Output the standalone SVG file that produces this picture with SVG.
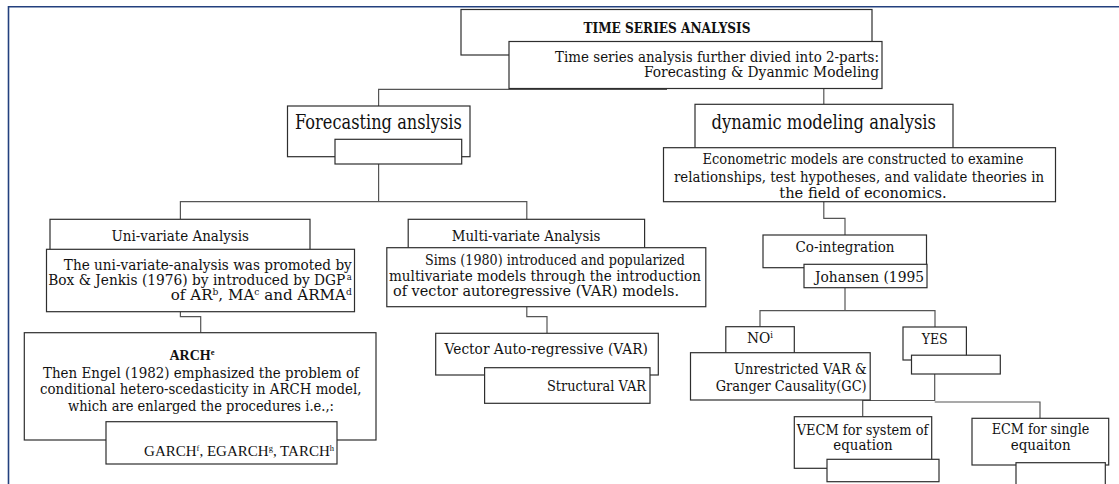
<svg xmlns="http://www.w3.org/2000/svg" width="1119" height="484" viewBox="0 0 1119 484">
<style>
.box{fill:#fff;stroke:#2e2e2e;stroke-width:1.2}
.conn{fill:none;stroke:#555;stroke-width:1.2}
.frame{fill:none;stroke:#23407e;stroke-width:1.6}
text{font-family:"DejaVu Serif","Liberation Serif",serif;font-size:14px;fill:#111}
.b{font-weight:bold}
.title{font-size:15px}
.arch{font-family:"Liberation Serif","DejaVu Serif",serif;font-size:14px}
.lib{font-family:"Liberation Serif","DejaVu Serif",serif;font-size:15px}
.big{font-size:20px}
.sup{font-size:8.5px;baseline-shift:super}
</style>
<rect width="1119" height="484" fill="#fff"/>
<path class="frame" d="M8.5,484 V6.8 H1119"/>

<g id="connectors">
<path class="conn" d="M378.6,106 V89.3 H667"/>
<path class="conn" d="M823.8,88.5 V104.3"/>
<path class="conn" d="M378.6,164 V201.7"/>
<path class="conn" d="M180.4,219.3 V201.7 H526.8 V219.3"/>
<path class="conn" d="M180.4,311.7 V316.7 H200.7 V332.7"/>
<path class="conn" d="M526.8,306.7 V316.7 H547 V333.3"/>
<path class="conn" d="M823.8,201.7 V218.3 H845 V235"/>
<path class="conn" d="M845,287.7 V310.7"/>
<path class="conn" d="M760,326.7 V310.7 H935 V327"/>
<path class="conn" d="M934.7,374 V400.5 H862.7 V416.7"/>
<path class="conn" d="M934.7,402 H1040 V418.3"/>
</g>

<g id="n-tsa">
<rect class="box" x="461" y="9.5" width="411" height="45.5"/>
<text class="b title" x="667" y="32.5" text-anchor="middle" textLength="167" lengthAdjust="spacingAndGlyphs">TIME SERIES ANALYSIS</text>
</g>
<g id="n-tsa-desc">
<rect class="box" x="509" y="41.5" width="373" height="47"/>
<text x="879" y="61.5" text-anchor="end" textLength="324" lengthAdjust="spacingAndGlyphs">Time series analysis further divied into 2-parts:</text>
<text x="879" y="76.5" text-anchor="end" textLength="235" lengthAdjust="spacingAndGlyphs">Forecasting &amp; Dyanmic Modeling</text>
</g>

<g id="n-forecast">
<rect class="box" x="287.5" y="106" width="182.5" height="50.7"/>
<text class="big" x="295" y="129" textLength="166.7" lengthAdjust="spacingAndGlyphs">Forecasting anslysis</text>
</g>
<g id="n-forecast-sub">
<rect class="box" x="335" y="139.3" width="126.7" height="24.7"/>
</g>

<g id="n-dynamic">
<rect class="box" x="695" y="104.3" width="258" height="50"/>
<text class="big" x="711.5" y="128.5" textLength="224.5" lengthAdjust="spacingAndGlyphs">dynamic modeling analysis</text>
</g>
<g id="n-econ">
<rect class="box" x="663.5" y="147.7" width="392" height="54"/>
<text x="863" y="164.3" text-anchor="middle" textLength="321" lengthAdjust="spacingAndGlyphs">Econometric models are constructed to examine</text>
<text x="859" y="181.5" text-anchor="middle" textLength="370" lengthAdjust="spacingAndGlyphs">relationships, test hypotheses, and validate theories in</text>
<text x="863" y="197.7" text-anchor="middle" textLength="167.5" lengthAdjust="spacingAndGlyphs">the field of economics.</text>
</g>

<g id="n-uni">
<rect class="box" x="50" y="219.3" width="260" height="35"/>
<text x="111.4" y="241" textLength="137.6" lengthAdjust="spacingAndGlyphs">Uni-variate Analysis</text>
</g>
<g id="n-uni-desc">
<rect class="box" x="46.5" y="249.3" width="308" height="62.4"/>
<text x="351.8" y="270" text-anchor="end" textLength="288" lengthAdjust="spacingAndGlyphs">The uni-variate-analysis was promoted by</text>
<text x="351.8" y="285" text-anchor="end" textLength="303.6" lengthAdjust="spacingAndGlyphs">Box &amp; Jenkis (1976) by introduced by DGP<tspan class="sup" dx="1.5">a</tspan></text>
<text x="351.8" y="299.5" text-anchor="end" textLength="181" lengthAdjust="spacingAndGlyphs">of AR<tspan class="sup">b</tspan>, MA<tspan class="sup">c</tspan> and ARMA<tspan class="sup">d</tspan></text>
</g>

<g id="n-multi">
<rect class="box" x="408.2" y="219.3" width="236.4" height="33"/>
<text x="451.8" y="241" textLength="148.6" lengthAdjust="spacingAndGlyphs">Multi-variate Analysis</text>
</g>
<g id="n-multi-desc">
<rect class="box" x="386.8" y="247.7" width="319" height="59"/>
<text x="425" y="265" textLength="260" lengthAdjust="spacingAndGlyphs">Sims (1980) introduced and popularized</text>
<text x="389" y="280.5" textLength="312" lengthAdjust="spacingAndGlyphs">multivariate models through the introduction</text>
<text x="393" y="296" textLength="286" lengthAdjust="spacingAndGlyphs">of vector autoregressive (VAR) models.</text>
</g>

<g id="n-arch">
<rect class="box" x="24.3" y="332.7" width="351.7" height="107.3"/>
<text class="b arch" x="192" y="359.5" text-anchor="middle">ARCH<tspan class="sup">e</tspan></text>
<text x="201" y="378.3" text-anchor="middle" textLength="316" lengthAdjust="spacingAndGlyphs">Then Engel (1982) emphasized the problem of</text>
<text x="200.7" y="394.3" text-anchor="middle" textLength="321.4" lengthAdjust="spacingAndGlyphs">conditional hetero-scedasticity in ARCH model,</text>
<text x="201" y="411" text-anchor="middle" textLength="266" lengthAdjust="spacingAndGlyphs">which are enlarged the procedures i.e.,:</text>
</g>
<g id="n-garch">
<rect class="box" x="106" y="421.7" width="231" height="42.3"/>
<text class="lib" x="334" y="456" text-anchor="end">GARCH<tspan class="sup">f</tspan>, EGARCH<tspan class="sup">g</tspan>, TARCH<tspan class="sup">h</tspan></text>
</g>

<g id="n-var">
<rect class="box" x="435.7" y="333.3" width="222.6" height="41.7"/>
<text x="444.6" y="353.7" textLength="203.4" lengthAdjust="spacingAndGlyphs">Vector Auto-regressive (VAR)</text>
</g>
<g id="n-svar">
<rect class="box" x="484.6" y="367.7" width="165.4" height="35.6"/>
<text x="646" y="391" text-anchor="end" textLength="99" lengthAdjust="spacingAndGlyphs">Structural VAR</text>
</g>

<g id="n-coint">
<rect class="box" x="763" y="235" width="163.5" height="32.7"/>
<text x="845" y="251.7" text-anchor="middle" textLength="99" lengthAdjust="spacingAndGlyphs">Co-integration</text>
</g>
<g id="n-johansen">
<rect class="box" x="804" y="264.3" width="123" height="23.4"/>
<text x="924" y="281.5" text-anchor="end" textLength="109" lengthAdjust="spacingAndGlyphs">Johansen (1995</text>
</g>

<g id="n-no">
<rect class="box" x="725.8" y="326.7" width="68.5" height="30"/>
<text x="760" y="343" text-anchor="middle" textLength="26" lengthAdjust="spacingAndGlyphs">NO<tspan class="sup">i</tspan></text>
</g>
<g id="n-unrestricted">
<rect class="box" x="690.5" y="352.7" width="179.7" height="47.3"/>
<text x="866.7" y="374" text-anchor="end" textLength="132.7" lengthAdjust="spacingAndGlyphs">Unrestricted VAR &amp;</text>
<text x="866.7" y="391" text-anchor="end" textLength="151" lengthAdjust="spacingAndGlyphs">Granger Causality(GC)</text>
</g>

<g id="n-yes">
<rect class="box" x="903" y="327" width="63.4" height="33"/>
<text x="934.7" y="344" text-anchor="middle" textLength="26" lengthAdjust="spacingAndGlyphs">YES</text>
</g>
<g id="n-yes-sub">
<rect class="box" x="911.5" y="355.2" width="88.8" height="18.8"/>
</g>

<g id="n-vecm">
<rect class="box" x="794.3" y="416.7" width="137.4" height="51.6"/>
<text x="796.7" y="435" textLength="131.6" lengthAdjust="spacingAndGlyphs">VECM for system of</text>
<text x="863" y="450" text-anchor="middle" textLength="59.4" lengthAdjust="spacingAndGlyphs">equation</text>
</g>
<g id="n-vecm-sub">
<rect class="box" x="827" y="459.3" width="112" height="22.4"/>
</g>

<g id="n-ecm">
<rect class="box" x="972" y="418.3" width="136.7" height="46.7"/>
<text x="1040.5" y="434" text-anchor="middle" textLength="97.6" lengthAdjust="spacingAndGlyphs">ECM for single</text>
<text x="1040.7" y="450" text-anchor="middle" textLength="60" lengthAdjust="spacingAndGlyphs">equaiton</text>
</g>
<g id="n-ecm-sub">
<rect class="box" x="1016" y="462.7" width="89.3" height="30"/>
</g>
</svg>
